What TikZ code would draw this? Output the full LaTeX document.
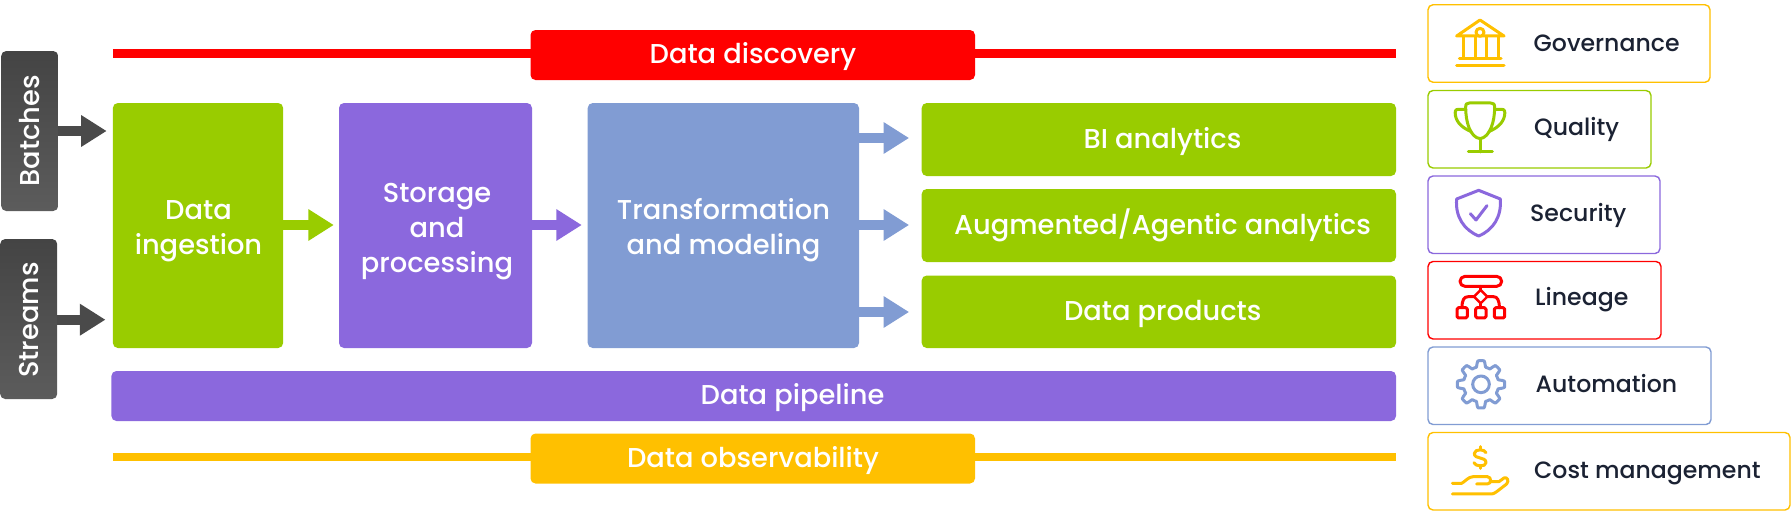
\documentclass[tikz,border=0pt]{standalone}
\usepackage{graphicx}
\usepackage{fontspec}
\setmainfont{Poppins}[UprightFont=* Medium]
\usetikzlibrary{arrows.meta}
\definecolor{cgreen}{HTML}{99CC00}
\definecolor{cpurple}{HTML}{8B68DD}
\definecolor{cblue}{HTML}{819CD3}
\definecolor{cred}{HTML}{FF0000}
\definecolor{cyellow}{HTML}{FFC000}
\definecolor{cdark}{HTML}{4A4A4A}
\definecolor{ctop}{HTML}{444444}
\definecolor{cbot}{HTML}{5C5C5C}
\definecolor{cink}{HTML}{1B2233}
\tikzset{
  block/.style={rounded corners=5pt,inner sep=0pt},
  source/.style={block,top color=ctop,bottom color=cbot,
    minimum width=57pt,minimum height=160pt},
  blocktext/.style={inner sep=0pt,text=white,align=center,font=\fontsize{27.3}{35}\selectfont},
  linetext/.style={blocktext,anchor=base},
  tag/.style={rounded corners=5pt,inner sep=0pt,fill=white,line width=1.4pt,minimum height=77.5pt},
  taglabel/.style={inner sep=0pt,anchor=base west,text=cink,font=\fontsize{23.6}{28}\selectfont},
  flow/.style={line width=10pt,-{Triangle[length=25.5pt,width=30pt]}},
  band/.style={line width=8.5pt},
  icon/.style={line width=3pt,line cap=round,line join=round},
}
\begin{document}
\begin{tikzpicture}[x=1pt,y=-1pt]
\useasboundingbox (0,0) rectangle (1791,512);
% side bands (behind their labels)
\coordinate (dl) at (112.9,53.5); \coordinate (dr) at (1396,53.5);
\coordinate (ol) at (112.9,457); \coordinate (or) at (1396,457);
\draw[band,cred] (dl) -- (dr);
\draw[band,cyellow] (ol) -- (or);
% main nodes
\node[source] (batches) at (29.7,131) {};
\node[source] (streams) at (28.7,319) {};
\node[block,fill=cgreen,minimum width=170.3pt,minimum height=245pt] (ingest) at (198,225.5) {};
\node[block,fill=cpurple,minimum width=193pt,minimum height=245pt] (store) at (435.5,225.5) {};
\node[block,fill=cblue,minimum width=271.3pt,minimum height=245pt] (transform) at (723.35,225.5) {};
\node[block,fill=cgreen,minimum width=474.3pt,minimum height=73pt] (bi) at (1158.85,139.5) {};
\node[block,fill=cgreen,minimum width=474.3pt,minimum height=73pt] (aug) at (1158.85,225.5) {};
\node[block,fill=cgreen,minimum width=474.3pt,minimum height=72.5pt] (prod) at (1158.85,311.75) {};
\node[block,fill=cpurple,minimum width=1284.6pt,minimum height=50pt] (pipe) at (753.7,396) {};
\node[block,fill=cred,minimum width=444.5pt,minimum height=50pt] (disc) at (752.75,55) {};
\node[block,fill=cyellow,minimum width=444.5pt,minimum height=50pt] (obs) at (752.75,458.5) {};
% texts
\node[linetext,rotate=90] (tb) at (39.4,130.8) {Batches};
\node[linetext,rotate=90] (ts) at (38.8,320) {Streams};
\node[blocktext] (ti) at (198.5,231) {Data\\ingestion};
\node[blocktext] (tt) at (437,231.5) {Storage\\and\\processing};
\node[blocktext] (tx) at (723.5,230.5) {Transformation\\and modeling};
\node[linetext] (tbi) at (1162.5,148.3) {BI analytics};
\node[linetext] (tau) at (1162.5,234.3) {Augmented/Agentic analytics};
\node[linetext] (tdp) at (1162.7,320.3) {Data products};
\node[linetext] (tpi) at (792.5,404.3) {Data pipeline};
\node[linetext] (tdd) at (753,63.4) {Data discovery};
\node[linetext] (tob) at (753,467.6) {Data observability};
% connectors
\coordinate (a1) at (0,131); \coordinate (a2) at (0,319.7);
\coordinate (a3) at (0,225); \coordinate (a4) at (0,138);
\coordinate (a5) at (0,312);
\draw[flow,cdark,shorten >=6pt] (batches.east |- a1) -- (ingest.west |- a1);
\draw[flow,cdark,shorten >=7.2pt] (streams.east |- a2) -- (ingest.west |- a2);
\draw[flow,cgreen,shorten >=5pt] (ingest.east |- a3) -- (store.west |- a3);
\draw[flow,cpurple,shorten >=5.7pt] (store.east |- a3) -- (transform.west |- a3);
\draw[flow,cblue,shorten >=12.4pt] (transform.east |- a4) -- (bi.west |- a4);
\draw[flow,cblue,shorten >=12.4pt] (transform.east |- a3) -- (aug.west |- a3);
\draw[flow,cblue,shorten >=12.4pt] (transform.east |- a5) -- (prod.west |- a5);
% right-hand tags
\node[tag,draw=cyellow,minimum width=282pt] (t1) at (1569,43.5) {};
\node[tag,draw=cgreen,minimum width=223pt] (t2) at (1539.5,129.25) {};
\node[tag,draw=cpurple,minimum width=232pt] (t3) at (1544,214.75) {};
\node[tag,draw=cred,minimum width=233pt] (t4) at (1544.5,300.25) {};
\node[tag,draw=cblue,minimum width=283pt] (t5) at (1569.5,385.75) {};
\node[tag,draw=cyellow,minimum width=362pt] (t6) at (1609,471.25) {};
\node[taglabel] (l1) at (1533.5,51.7) {Governance};
\node[taglabel] (l2) at (1534,135) {Quality};
\node[taglabel] (l3) at (1530,221.7) {Security};
\node[taglabel] (l4) at (1535,305) {Lineage};
\node[taglabel] (l5) at (1535.5,392.7) {Automation};
\node[taglabel] (l6) at (1534,478) {Cost management};
% icons (coordinates in 1/3 px)
\begin{scope}[shift={(1400,0)},x=0.3333pt,y=-0.3333pt]
  % governance
  \draw[icon,cyellow] (170,108) -- (240,60) -- (312,108) -- cycle;
  \draw[icon,cyellow,fill=white] (240,97) circle (12);
  \draw[icon,cyellow] (190,110) -- (190,175) (225,110) -- (225,175) (258,110) -- (258,175) (295,110) -- (295,175);
  \draw[icon,cyellow] (178,175) -- (303,175) (170,197) -- (312,197);
  % trophy
  \draw[icon,cgreen] (197,322) .. controls (197,312) and (200,309) .. (208,309) -- (272,309) .. controls (280,309) and (284,312) .. (284,322)
    .. controls (284,365) and (270,412) .. (240,416) .. controls (210,412) and (197,365) .. (197,322) -- cycle;
  \draw[icon,cgreen] (197,328) -- (175,328) .. controls (165,328) and (165,335) .. (166,345) .. controls (170,370) and (190,385) .. (214,395);
  \draw[icon,cgreen] (284,328) -- (305,328) .. controls (315,328) and (315,335) .. (314,345) .. controls (310,370) and (290,385) .. (266,395);
  \draw[icon,cgreen] (240,416) -- (240,456) (205,456) -- (277,456);
  % shield
  \draw[icon,cpurple] (236,571) -- (301,597) .. controls (305,650) and (280,690) .. (236,708) .. controls (192,690) and (165,650) .. (170,597) -- cycle;
  \draw[icon,cpurple] (211,641) -- (228,660) -- (261,617);
\end{scope}
\begin{scope}[shift={(1400,250)},x=0.3333pt,y=-0.3333pt]
  % lineage
  \draw[icon,cred,rounded corners=5pt] (180,79) rectangle (305,109);
  \draw[icon,cred,line width=2.4pt] (242,120) -- (262,140) -- (242,160) -- (222,140) -- cycle;
  \draw[icon,cred] (242,109) -- (242,120) (242,160) -- (242,173);
  \draw[icon,cred] (222,140) -- (205,140) .. controls (192,140) and (186,150) .. (186,173);
  \draw[icon,cred] (262,140) -- (280,140) .. controls (292,140) and (298,150) .. (298,173);
  \draw[icon,cred,rounded corners=1.5pt] (171,173) rectangle (202,204);
  \draw[icon,cred,rounded corners=1.5pt] (227,173) rectangle (258,204);
  \draw[icon,cred,rounded corners=1.5pt] (283,173) rectangle (314,204);
  % hand and dollar
  \draw[icon,cyellow] (157,700) -- (185,700) .. controls (195,695) and (205,680) .. (220,680) -- (262,680) .. controls (275,680) and (275,702) .. (262,702) -- (230,702);
  \draw[icon,cyellow] (272,695) -- (297,695) -- (312,684) .. controls (322,680) and (328,692) .. (320,702) -- (290,725) .. controls (280,732) and (278,732) .. (270,732) -- (157,732);
  \draw[icon,cyellow] (258,608) .. controls (255,598) and (225,595) .. (223,610) .. controls (222,630) and (258,618) .. (258,638) .. controls (258,652) and (225,650) .. (222,638);
  \draw[icon,cyellow] (240,590) -- (240,598) (240,647) -- (240,655);
\end{scope}
\begin{scope}[shift={(1481,384.3)},x=0.3333pt,y=-0.3333pt]
  % gear
  \draw[icon,cblue] plot[domain=0:360,samples=145,smooth] (\x:{62+9*max(-1,min(1,2.2*cos(8*\x)))}) -- cycle;
  \draw[icon,cblue] (0,0) circle (25);
\end{scope}
\end{tikzpicture}
\end{document}
